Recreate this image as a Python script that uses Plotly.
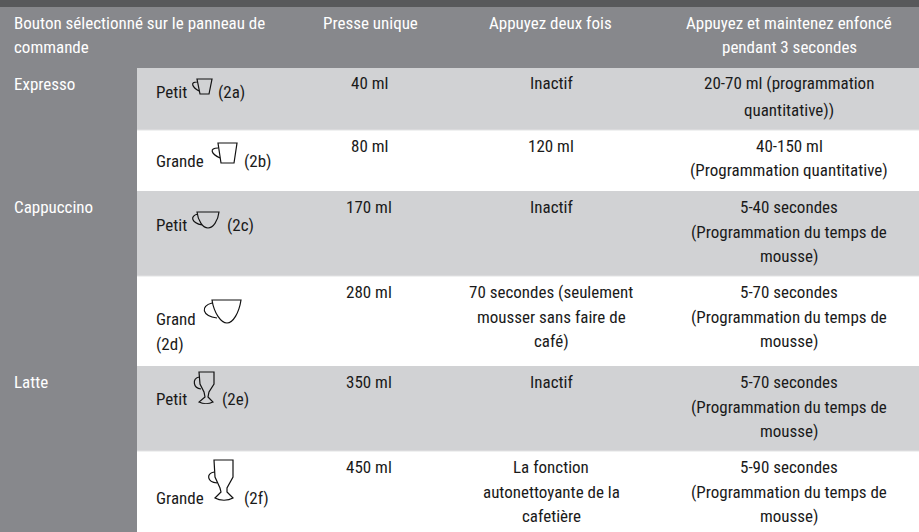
import plotly.graph_objects as go

W, H = 919, 532
FONT = "Roboto Condensed"
DARK = "#58595b"
HEAD = "#87888c"
GRAY = "#d1d2d4"
WHITE = "#ffffff"
INK = "#1a1a1a"

col_headers = [["Bouton sélectionné sur le panneau de", "commande"], ["Presse unique"], ["Appuyez deux fois"],
               ["Appuyez et maintenez enfoncé", "pendant 3 secondes"]]
groups = ["Expresso", "Cappuccino", "Latte"]
group_rows = [0, 2, 4]
sizes = [["Petit", "(2a)"], ["Grande", "(2b)"], ["Petit", "(2c)"], ["Grand", "(2d)"], ["Petit", "(2e)"], ["Grande", "(2f)"]]
single = ["40 ml", "80 ml", "170 ml", "280 ml", "350 ml", "450 ml"]
double = [["Inactif"], ["120 ml"], ["Inactif"], ["70 secondes (seulement", "mousser sans faire de", "café)"], ["Inactif"],
          ["La fonction", "autonettoyante de la", "cafetière"]]
hold = [["20-70 ml (programmation", "quantitative))"], ["40-150 ml", "(Programmation quantitative)"],
        ["5-40 secondes", "(Programmation du temps de", "mousse)"], ["5-70 secondes", "(Programmation du temps de", "mousse)"],
        ["5-70 secondes", "(Programmation du temps de", "mousse)"], ["5-90 secondes", "(Programmation du temps de", "mousse)"]]

row_edges = [68, 130, 191, 276, 366, 451, 532]
row_first = [15, 16, 16, 16, 16, 16]
hold_lh = [26.5, 23.5, 24.5, 24.5, 24.5, 24.5]
FS = 17
LH = 24.6

fig = go.Figure()
shapes, ann = [], []

def rect(x0, y0, x1, y1, c):
    shapes.append(dict(type="rect", x0=x0, y0=y0, x1=x1, y1=y1, fillcolor=c, layer="below", line=dict(width=0)))

def text(x, y, s, color=INK, anchor="center"):
    ann.append(dict(x=x, y=y, text=s, showarrow=False, xanchor=anchor, yanchor="middle", xref="x", yref="y",
                    font=dict(family=FONT, size=FS, color=color), borderpad=0, borderwidth=0))

rect(0, 0, W, H, HEAD)
rect(0, 0, W, 7, DARK)
for i in range(6):
    rect(137, row_edges[i], W, row_edges[i + 1], GRAY if i % 2 == 0 else WHITE)
    if i % 2:
        shapes.append(dict(type="line", x0=137, x1=W, y0=row_edges[i], y1=row_edges[i], line=dict(color="#e2e3e4", width=1)))

for i, ln in enumerate(col_headers[0]):
    text(14, 22.5 + i * LH, ln, "#ffffff", "left")
text(370, 22.5, col_headers[1][0], "#ffffff")
text(550, 22.5, col_headers[2][0], "#ffffff")
for i, ln in enumerate(col_headers[3]):
    text(789, 22.5 + i * LH, ln, "#ffffff")

for g, r in zip(groups, group_rows):
    text(14, row_edges[r] + 16, g, "#ffffff", "left")

for r in range(6):
    top = row_edges[r] + row_first[r]
    text(369, top, single[r])
    for i, ln in enumerate(double[r]):
        text(551, top + i * LH, ln)
    for i, ln in enumerate(hold[r]):
        text(789, top + i * hold_lh[r], ln)

size_pos = [(156, 92, 218, 92), (156, 161, 244, 161), (156, 225, 227, 225), (156, 319, 156, 344), (156, 399, 222, 399), (156, 498, 244, 498)]
for r, (x1, y1, x2, y2) in enumerate(size_pos):
    text(x1, y1, sizes[r][0], INK, "left")
    text(x2, y2, sizes[r][1], INK, "left")

def cup(d):
    shapes.append(dict(type="path", path=d, line=dict(color="#111111", width=1.2), fillcolor="rgba(0,0,0,0)"))

cup("M197,79 L212,79 L209,94 L200,94 Z M197,82 C190,82 192,87 199,91")
cup("M218,143 L237,143 L234,163 L221,163 Z M218,148 C209,148 211,154 220,158")
cup("M197,212 L219,212 C218,221 213,228 208,228 C203,228 198,221 197,212 Z M198,214 C189,216 192,223 202,225")
cup("M212,300 L241,300 C239,313 233,323 227,323 C221,323 214,313 212,300 Z M212,303 C200,306 202,316 217,318")
cup("M199,372 L214,372 L214,384 L209,392 L208,397 L213,402 C209,404 203,404 199,402 L205,397 L204,392 L200,384 Z M199,377 C192,379 193,388 201,389")
cup("M214,460 L233,460 L233,477 L227,488 L227,492 L233,498 C228,501 220,501 215,498 L221,492 L220,488 L215,477 Z M214,472 C206,474 207,482 217,483")

fig.update_layout(width=W, height=H, margin=dict(l=0, r=0, t=0, b=0), shapes=shapes, annotations=ann,
                  paper_bgcolor=HEAD, plot_bgcolor=HEAD, showlegend=False,
                  xaxis=dict(range=[0, W], visible=False, fixedrange=True),
                  yaxis=dict(range=[H, 0], visible=False, fixedrange=True))
fig.add_trace(go.Scatter(x=[0, W], y=[0, H], mode="markers", marker=dict(opacity=0), hoverinfo="skip"))
fig.write_html("out.html", config=dict(displayModeBar=False), post_script="document.body.style.margin='0';")
